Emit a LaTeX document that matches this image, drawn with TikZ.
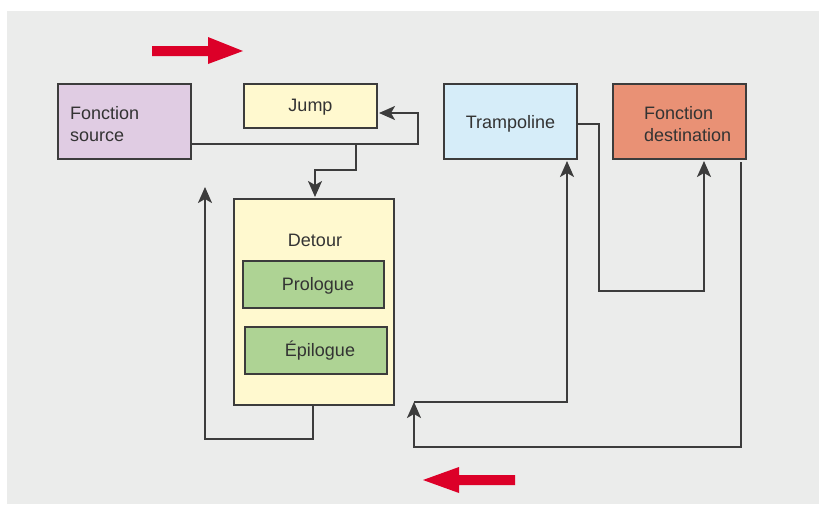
\documentclass[tikz,border=0pt]{standalone}
\usepackage{fontspec}
\setmainfont{Liberation Sans}
\usetikzlibrary{arrows.meta}
\definecolor{panel}{HTML}{EBECEB}
\definecolor{edge}{HTML}{3C3C3C}
\definecolor{txt}{HTML}{333333}
\definecolor{lilac}{HTML}{E0CCE3}
\definecolor{cream}{HTML}{FFF9CF}
\definecolor{skyblue}{HTML}{D6EDF9}
\definecolor{salmon}{HTML}{E99175}
\definecolor{leaf}{HTML}{AED394}
\definecolor{signal}{HTML}{DC0028}
\tikzset{
  box/.style={draw=edge, line width=2pt},
  link/.style={draw=edge, line width=2pt},
  linkarrow/.style={link, -{Stealth[length=16pt,width=14pt,inset=4pt]}, shorten >=2pt},
  label/.style={text=txt, font=\fontsize{18}{22.5}\selectfont, align=center, inner sep=0pt},
  redarrow/.style={fill=signal, draw=none}
}
\begin{document}
\begin{tikzpicture}[x=1pt,y=-1pt]
\useasboundingbox (0,0) rectangle (819,504);
\fill[white] (0,0) rectangle (819,504);
\fill[panel] (7,11) rectangle (819,504);

% boxes
\draw[box, fill=lilac] (58,84) rectangle (191,159);
\node[label, anchor=west, align=left] (src) at (70,124) {Fonction\\source};
\coordinate (srcR) at (191,144);

\draw[box, fill=cream] (244,84) rectangle (377,128);
\node[label] (jump) at (310.5,107) {Jump};
\coordinate (jumpR) at (377,113);

\draw[box, fill=skyblue] (444,84) rectangle (577,159);
\node[label] (tramp) at (510.5,124) {Trampoline};
\coordinate (trampR) at (577,124);
\coordinate (trampB) at (567,159);

\draw[box, fill=salmon] (613,84) rectangle (746,159);
\node[label, anchor=west, align=left] (dest) at (644,124) {Fonction\\destination};
\coordinate (destB) at (704,159);
\coordinate (destO) at (741,162);

\draw[box, fill=cream] (234,199) rectangle (394,405);
\node[label] (detour) at (315,240) {Detour};
\coordinate (detT) at (315,199);
\coordinate (detB) at (313,405);

\draw[box, fill=leaf] (243,261) rectangle (384,308);
\node[label] (pro) at (318,286) {Prologue};
\draw[box, fill=leaf] (245,327) rectangle (387,374);
\node[label] (epi) at (320,351) {Épilogue};

% connectors
\coordinate (join) at (414,402);
\coordinate (srcUp) at (205,185);
\draw[linkarrow] (srcR) -- (418,144) -- (418,113) -- (jumpR);
\draw[linkarrow] (356,144) -- (356,170) -- (315,170) -- (detT);
\draw[linkarrow] (detB) -- (313,439) -- (205,439) -- (srcUp);
\draw[linkarrow] (trampR) -- (599,124) -- (599,291) -- (704,291) -- (destB);
\draw[linkarrow] (join) -- (567,402) -- (trampB);
\draw[linkarrow, shorten >=0pt] (destO) -- (741,447) -- (414,447) -- (join);

% direction arrows
\fill[redarrow] (152,46) -- (208,46) -- (208,37) -- (243,51) -- (208,64) -- (208,56) -- (152,56) -- cycle;
\fill[redarrow] (515,475) -- (459,475) -- (459,467) -- (423,480) -- (459,493) -- (459,485) -- (515,485) -- cycle;
\end{tikzpicture}
\end{document}
